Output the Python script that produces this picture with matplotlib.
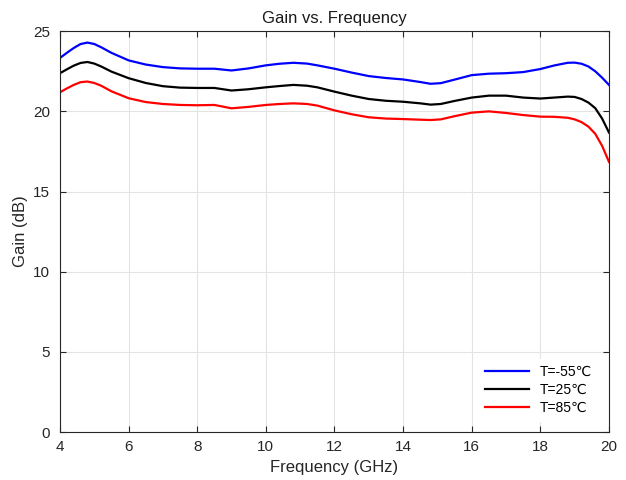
import matplotlib.pyplot as plt

plt.rcParams["font.family"] = ["Liberation Sans", "DejaVu Sans"]

freq = [4.0, 4.2, 4.4, 4.6, 4.8, 5.0, 5.2, 5.5, 6.0, 6.5, 7.0, 7.5, 8.0, 8.5, 9.0,
        9.5, 10.0, 10.4, 10.8, 11.2, 11.5, 12.0, 12.5, 13.0, 13.5, 14.0, 14.5, 14.8,
        15.1, 15.5, 16.0, 16.5, 17.0, 17.5, 18.0, 18.4, 18.8, 19.0, 19.2, 19.4, 19.6,
        19.8, 20.0]

gain_m55 = [23.33, 23.65, 23.95, 24.2, 24.29, 24.2, 24.0, 23.65, 23.18, 22.92, 22.76,
            22.68, 22.66, 22.66, 22.55, 22.68, 22.87, 22.97, 23.03, 22.98, 22.87, 22.66,
            22.42, 22.2, 22.08, 21.99, 21.83, 21.72, 21.76, 21.98, 22.26, 22.35, 22.38,
            22.45, 22.64, 22.86, 23.03, 23.04, 22.97, 22.8, 22.5, 22.1, 21.65]
gain_25 = [22.38, 22.62, 22.85, 23.02, 23.08, 22.98, 22.8, 22.48, 22.07, 21.77, 21.57,
           21.48, 21.46, 21.46, 21.3, 21.38, 21.5, 21.58, 21.65, 21.6, 21.5, 21.23,
           20.98, 20.77, 20.66, 20.6, 20.5, 20.42, 20.46, 20.65, 20.86, 20.98, 20.98,
           20.86, 20.8, 20.86, 20.92, 20.9, 20.77, 20.55, 20.2, 19.55, 18.68]
gain_85 = [21.19, 21.43, 21.65, 21.82, 21.86, 21.77, 21.6, 21.25, 20.82, 20.58, 20.46,
           20.4, 20.38, 20.4, 20.19, 20.28, 20.4, 20.46, 20.5, 20.46, 20.36, 20.06,
           19.82, 19.63, 19.55, 19.52, 19.48, 19.46, 19.5, 19.7, 19.92, 20.0, 19.9,
           19.77, 19.67, 19.66, 19.6, 19.5, 19.33, 19.05, 18.6, 17.85, 16.85]

labels = ["T=-55℃", "T=25℃", "T=85℃"]
colors = ["#0000ff", "#000000", "#ff0000"]

fig = plt.figure(figsize=(6.26, 4.8), dpi=100)
ax = fig.add_axes([0.0958, 0.1, 0.877, 0.835])

for g, lab, c in zip([gain_m55, gain_25, gain_85], labels, colors):
    ax.plot(freq, g, color=c, lw=1.6, label=lab)

ax.set_xlim(4, 20)
ax.set_ylim(0, 25)
ax.set_xticks(range(4, 21, 2))
ax.set_yticks(range(0, 26, 5))
ax.grid(True, color="#e3e3e3", lw=0.8)
ax.tick_params(direction="in", labelsize=11, colors="#262626", length=4,
               top=True, right=True)
ax.tick_params(axis="x", pad=6)
ax.tick_params(axis="y", pad=7)
for s in ax.spines.values():
    s.set_color("#262626")
    s.set_linewidth(0.8)

ax.set_title("Gain vs. Frequency", fontsize=12, color="#1a1a1a")
ax.set_xlabel("Frequency (GHz)", fontsize=12, color="#262626")
ax.set_ylabel("Gain (dB)", fontsize=12, color="#262626")

leg = ax.legend(loc="lower right", fontsize=10, frameon=True, fancybox=False,
                handlelength=3.2, borderaxespad=0.8, labelspacing=0.3)
leg.get_frame().set_edgecolor("white")
leg.get_frame().set_alpha(1)

fig.savefig("out.png", dpi=100)
